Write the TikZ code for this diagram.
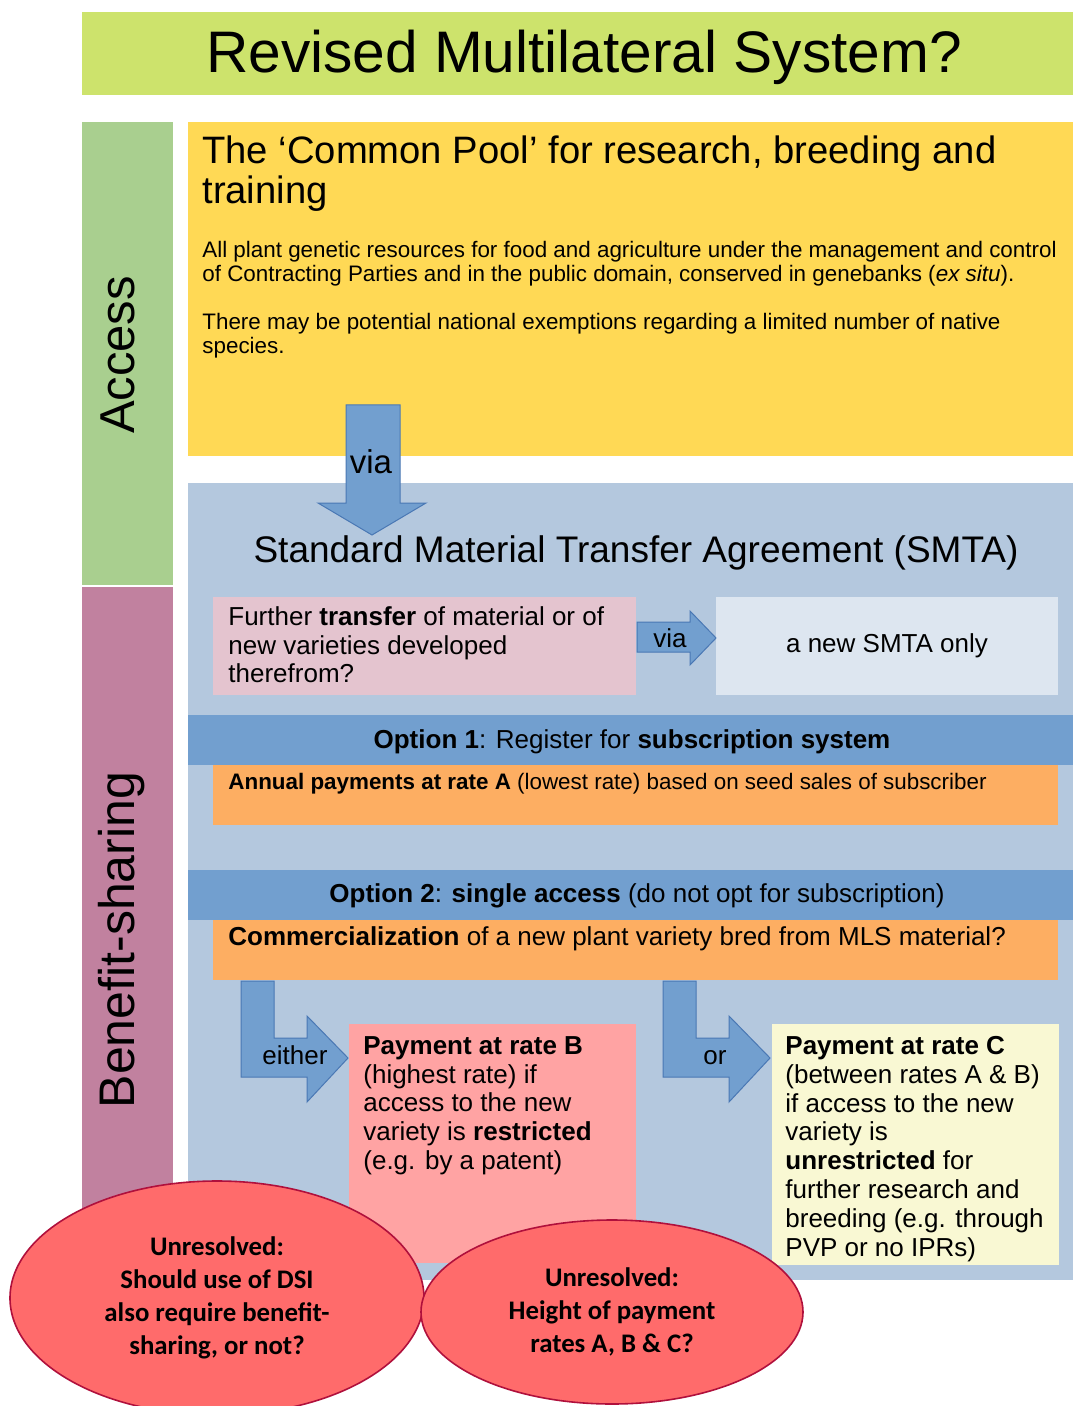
\documentclass[tikz,border=0pt]{standalone}
\usepackage{fontspec}
\setmainfont{Liberation Sans}
\newfontfamily\calibri{Carlito}
\usetikzlibrary{fit,shapes.geometric}

\definecolor{titlelime}{HTML}{CDE36C}
\definecolor{accessgreen}{HTML}{A9CF8F}
\definecolor{benefitmauve}{HTML}{C1819F}
\definecolor{poolyellow}{HTML}{FFD955}
\definecolor{smtablue}{HTML}{B4C8DE}
\definecolor{optionblue}{HTML}{729FCF}
\definecolor{arrowedge}{HTML}{4A78B4}
\definecolor{payorange}{HTML}{FDAE62}
\definecolor{transferpink}{HTML}{E4C4CF}
\definecolor{newsmta}{HTML}{DDE6F0}
\definecolor{rateB}{HTML}{FFA3A3}
\definecolor{rateC}{HTML}{F9F8D3}
\definecolor{unresolved}{HTML}{FF6B6B}
\definecolor{unresolvededge}{HTML}{B0103C}

\begin{document}
\begin{tikzpicture}[x=0.5pt,y=-0.5pt,
  every node/.style={inner sep=0pt},
  panel/.style={fit={#1}, inner sep=0pt},
  lbl/.style={align=left, anchor=north west},
  boxtext/.style={lbl, font=\fontsize{13}{14.4}\selectfont},
  blockarrow/.style={fill=optionblue, draw=arrowedge, line width=0.5pt},
  unres/.style={ellipse, fill=unresolved, draw=unresolvededge, line width=0.8pt, align=center, font=\calibri\bfseries\fontsize{13.4}{16.5}\selectfont}
]
\useasboundingbox (0,0) rectangle (1073,1406);
\fill[white] (0,0) rectangle (1073,1406);

% title band
\node[panel={(82,12) (1073,95)}, fill=titlelime] (title) {};
\node[anchor=base, font=\fontsize{29.3}{32}\selectfont] (titletext) at (584,73) {Revised Multilateral System?};

% side bars
\node[panel={(82,122) (173,585)}, fill=accessgreen] (access) {};
\node[rotate=90, font=\fontsize{24.5}{26}\selectfont] (accesstext) at (118,355) {Access};
\node[panel={(82,587) (173,1260)}, fill=benefitmauve] (benefit) {};
\node[rotate=90, font=\fontsize{25}{26}\selectfont] (benefittext) at (122,940) {Benefit-sharing};

% common pool
\node[panel={(188,122) (1073,456)}, fill=poolyellow] (pool) {};
\node[lbl, font=\fontsize{19.1}{20}\selectfont] (pooltitle) at (202,135) {The ‘Common Pool’ for research, breeding and\\training};
\node[lbl, font=\fontsize{11.2}{12}\selectfont] (poolscope) at (202,241) {All plant genetic resources for food and agriculture under the management and control\\of Contracting Parties and in the public domain, conserved in genebanks (\textit{ex situ}).};
\node[lbl, font=\fontsize{11.2}{12}\selectfont] (poolexempt) at (202,313) {There may be potential national exemptions regarding a limited number of native\\species.};

% SMTA
\node[panel={(188,483) (1073,1280)}, fill=smtablue] (smta) {};
\draw[blockarrow] (346,405) -- (400,405) -- (400,503) -- (426,503) -- (372,535) -- (318,503) -- (346,503) -- cycle;
\node[font=\fontsize{16.5}{18}\selectfont] (viadown) at (371,462) {via};
\node[font=\fontsize{18.5}{20}\selectfont] (smtatitle) at (636,553) {Standard Material Transfer Agreement (SMTA)};

\node[panel={(213,597) (636,695)}, fill=transferpink] (transfer) {};
\node[boxtext] (transfertext) at (228,606) {Further \textbf{transfer} of material or of\\new varieties developed\\therefrom?};
\node[panel={(716,597) (1058,695)}, fill=newsmta] (newsmta) {};
\node[font=\fontsize{13}{14}\selectfont] (newsmtatext) at (newsmta.center) {a new SMTA only};
\draw[blockarrow] (637,622) -- (690,622) -- (690,611) -- (716,638) -- (690,665) -- (690,652) -- (637,652) -- cycle;
\node[font=\fontsize{13}{14}\selectfont] (viaright) at (670,638) {via};

% option 1
\node[panel={(188,715) (1073,765)}, fill=optionblue] (option1) {};
\node[font=\fontsize{13}{14}\selectfont] (option1text) at (632,742) {\textbf{Option 1}: Register for \textbf{subscription system}};
\node[panel={(213,765) (1058,825)}, fill=payorange] (annual) {};
\node[anchor=west, font=\fontsize{11.2}{13}\selectfont] (annualtext) at (228,784) {\textbf{Annual payments at rate A} (lowest rate) based on seed sales of subscriber};

% option 2
\node[panel={(188,870) (1073,920)}, fill=optionblue] (option2) {};
\node[font=\fontsize{13}{14}\selectfont] (option2text) at (637,896) {\textbf{Option 2}: \textbf{single access} (do not opt for subscription)};
\node[panel={(213,920) (1058,980)}, fill=payorange] (commerce) {};
\node[anchor=west, font=\fontsize{13}{14}\selectfont] (commercetext) at (228,939) {\textbf{Commercialization} of a new plant variety bred from MLS material?};

\foreach \x/\tx/\word in {241/295/either, 663/715/or}{
  \draw[blockarrow] (\x,981) -- ++(33,0) -- ++(0,57) -- ++(33,0) -- ++(0,-22) -- ++(41,42) -- ++(-41,44) -- ++(0,-25) -- ++(-66,0) -- cycle;
  \node[anchor=base, font=\fontsize{13}{14}\selectfont] (\word) at (\tx,1064) {\word};
}

\node[panel={(349,1024) (636,1263)}, fill=rateB] (rateB) {};
\node[boxtext] (rateBtext) at (363,1036) {\textbf{Payment at rate B}\\(highest rate) if\\access to the new\\variety is \textbf{restricted}\\(e.g. by a patent)};
\node[panel={(772,1024) (1059,1265)}, fill=rateC] (rateC) {};
\node[boxtext] (rateCtext) at (785,1036) {\textbf{Payment at rate C}\\(between rates A \& B)\\if access to the new\\variety is\\\textbf{unrestricted} for\\further research and\\breeding (e.g. through\\PVP or no IPRs)};

% unresolved questions
\node[unres, minimum width=207pt, minimum height=117pt] (dsi) at (217,1298) {Unresolved:\\Should use of DSI\\also require benefit-\\sharing, or not?};
\node[unres, minimum width=191pt, minimum height=92pt] (rates) at (612,1312) {Unresolved:\\Height of payment\\rates A, B \& C?};
\end{tikzpicture}
\end{document}
